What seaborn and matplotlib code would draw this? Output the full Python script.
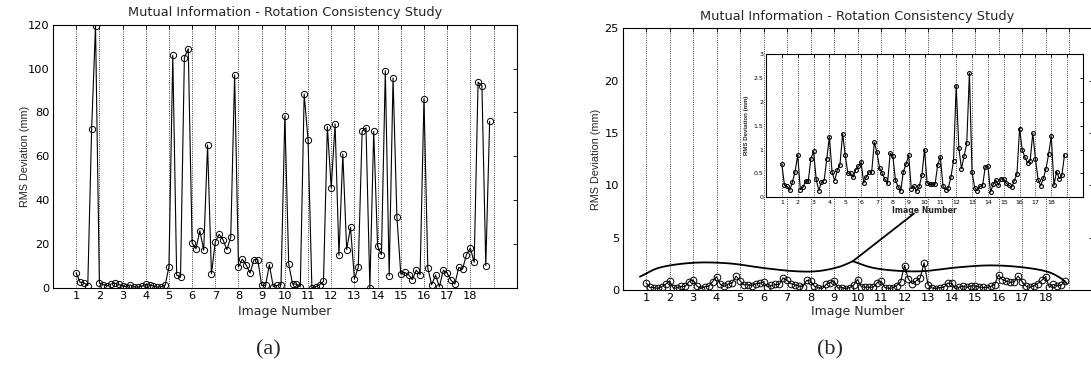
import numpy as np
import pandas as pd
import matplotlib
matplotlib.use("Agg")
import matplotlib.pyplot as plt
import seaborn as sns

# 18 images, 6 rotation trials per image
images = list(range(1, 19))
trials_per_image = 6

# (a) RMS deviation (mm), six trials per image
rms_a = [
    6.8, 2.6, 2.3, 1.1, 72.5, 119.5,
    2.3, 1.5, 0.9, 1.8, 2.2, 1.6,
    1.0, 0.6, 1.4, 0.5, 0.4, 0.9,
    1.6, 1.3, 0.9, 0.4, 0.6, 1.2,
    9.5, 106.0, 5.9, 5.0, 105.0, 109.0,
    20.5, 17.9, 26.1, 17.2, 65.2, 6.4,
    21.1, 24.5, 22.0, 17.5, 23.1, 97.1,
    9.6, 13.2, 10.4, 6.8, 12.9, 12.9,
    1.2, 1.2, 10.6, 0.6, 1.2, 1.5,
    78.4, 10.9, 1.8, 1.8, 0.6, 88.4,
    67.6, 0.0, 0.6, 1.5, 3.0, 73.5,
    45.6, 74.8, 14.9, 61.1, 17.5, 27.7,
    4.1, 9.4, 71.4, 73.0, 0.0, 71.4,
    19.0, 15.2, 99.0, 5.6, 95.7, 32.4,
    6.4, 7.1, 6.1, 3.8, 8.1, 6.1,
    86.3, 9.0, 1.5, 5.9, 0.5, 8.1,
    6.8, 3.5, 1.8, 9.4, 8.7, 15.2,
    18.2, 11.7, 93.8, 92.2, 10.2, 76.0,
]

# (b) RMS deviation (mm)
rms_b = [
    0.69, 0.25, 0.23, 0.15, 0.32, 0.54,
    0.88, 0.16, 0.21, 0.34, 0.34, 0.81,
    0.96, 0.38, 0.14, 0.32, 0.35, 0.80,
    1.27, 0.53, 0.35, 0.57, 0.68, 1.33,
    0.88, 0.50, 0.50, 0.42, 0.58, 0.65,
    0.73, 0.30, 0.43, 0.53, 0.53, 1.15,
    0.94, 0.61, 0.50, 0.38, 0.29, 0.92,
    0.87, 0.36, 0.22, 0.13, 0.54, 0.69,
    0.88, 0.18, 0.23, 0.13, 0.23, 0.46,
    1.00, 0.30, 0.27, 0.27, 0.27, 0.68,
    0.85, 0.23, 0.16, 0.20, 0.42, 0.77,
    2.34, 1.03, 0.60, 0.87, 1.13, 2.60,
    0.52, 0.20, 0.14, 0.23, 0.25, 0.64,
    0.65, 0.11, 0.27, 0.36, 0.25, 0.39,
    0.38, 0.29, 0.25, 0.21, 0.35, 0.49,
    1.44, 0.99, 0.84, 0.72, 0.77, 1.34,
    0.80, 0.37, 0.24, 0.40, 0.60, 0.91,
    1.28, 0.25, 0.54, 0.39, 0.46, 0.89,
]

sample = np.arange(len(rms_a))
df = pd.DataFrame({
    "Image Number": images[0] + sample / trials_per_image,
    "a": rms_a,
    "b": rms_b,
})

# brace drawn under the (b) curve, in data units of the main axes
brace_pts = [(0.74, 1.27), (1.6, 2.15), (3.0, 2.6), (4.5, 2.55), (6.0, 2.1),
             (7.3, 1.8), (8.3, 1.8), (9.2, 2.2), (9.8, 2.75)]
brace_pts2 = [(9.8, 2.75), (10.6, 2.15), (11.6, 1.85), (12.8, 1.8), (14.2, 2.15),
              (15.6, 2.35), (16.9, 2.2), (18.0, 1.8), (18.6, 1.2), (18.9, 0.64)]
pointer = [(9.8, 2.75), (12.4, 7.3)]


def smooth(pts, n=30):
    p = np.array(pts, dtype=float)
    p = np.vstack([2 * p[0] - p[1], p, 2 * p[-1] - p[-2]])
    t = np.linspace(0, 1, n)[:, None]
    out = []
    for i in range(1, len(p) - 2):
        p0, p1, p2, p3 = p[i - 1], p[i], p[i + 1], p[i + 2]
        seg = 0.5 * ((2 * p1) + (-p0 + p2) * t + (2 * p0 - 5 * p1 + 4 * p2 - p3) * t ** 2
                     + (-p0 + 3 * p1 - 3 * p2 + p3) * t ** 3)
        out.append(seg)
    return np.vstack(out)


sns.set_style("white")
plt.rcParams["font.family"] = ["DejaVu Sans"]
plt.rcParams["axes.linewidth"] = 0.8

W, H = 1091, 383
fig = plt.figure(figsize=(W / 100, H / 100), dpi=100)
ax_a = fig.add_axes([53 / W, 1 - 288 / H, 463.7 / W, 263.3 / H])
ax_b = fig.add_axes([622.5 / W, 1 - 290 / H, 470 / W, 261.7 / H])
ax_in = fig.add_axes([766 / W, 1 - 197.3 / H, 317 / W, 143.3 / H])

ticks = images + [19]
ticklabels = [str(i) for i in images] + [""]
title = "Mutual Information - Rotation Consistency Study"


def style(ax, fs, tl, pad):
    ax.set_xlim(0, 20)
    ax.set_xticks(ticks)
    ax.set_xticklabels(ticklabels)
    ax.grid(axis="x", linestyle=":", color="k", linewidth=0.6)
    ax.grid(axis="y", visible=False)
    ax.tick_params(direction="in", top=True, right=True, labelsize=fs,
                   length=tl, width=0.6, pad=pad, colors="k")
    for s in ax.spines.values():
        s.set_color("k")
        s.set_linewidth(0.8)


# (a)
sns.lineplot(data=df, x="Image Number", y="a", ax=ax_a, estimator=None, color="k",
             lw=0.8, marker="o", ms=4.5, mfc="none", mec="k", mew=0.7)
style(ax_a, 8.2, 3, 2.5)
ax_a.set_ylim(0, 120)
ax_a.set_yticks(range(0, 121, 20))
ax_a.set_title(title, fontsize=9.3, pad=6)
ax_a.set_xlabel("Image Number", fontsize=9, va="center")
ax_a.xaxis.set_label_coords(0.5, -0.09)
ax_a.set_ylabel("RMS Deviation (mm)", family="Liberation Sans", fontsize=7.8, va="center")
ax_a.yaxis.set_label_coords(-0.06, 0.5)

# (b)
bx = smooth(brace_pts)
bx2 = smooth(brace_pts2)
ax_b.plot(bx[:, 0], bx[:, 1], color="k", lw=1.3)
ax_b.plot(bx2[:, 0], bx2[:, 1], color="k", lw=1.3)
ax_b.plot(*zip(*pointer), color="k", lw=1.3)
sns.lineplot(data=df, x="Image Number", y="b", ax=ax_b, estimator=None, color="k",
             lw=0.8, marker="o", ms=4.8, mfc="none", mec="k", mew=0.7)
style(ax_b, 8.2, 3, 2.5)
ax_b.set_ylim(0, 25)
ax_b.set_yticks(range(0, 26, 5))
ax_b.set_title(title, fontsize=9.3, pad=6)
ax_b.set_xlabel("Image Number", fontsize=9, va="center")
ax_b.xaxis.set_label_coords(0.5, -0.083)
ax_b.set_ylabel("RMS Deviation (mm)", family="Liberation Sans", fontsize=7.8, va="center")
ax_b.yaxis.set_label_coords(-0.056, 0.5)

# inset of (b)
ax_in.set_facecolor("white")
sns.lineplot(data=df, x="Image Number", y="b", ax=ax_in, estimator=None, color="k",
             lw=0.8, marker="o", ms=2.8, mfc="none", mec="k", mew=0.8)
style(ax_in, 4.5, 2, 2)
ax_in.set_ylim(0, 3)
ax_in.set_yticks(np.arange(0, 3.01, 0.5))
ax_in.set_yticklabels(["0", "0.5", "1", "1.5", "2", "2.5", "3"])
ax_in.set_xlabel("Image Number", fontsize=5.6, fontweight="bold", labelpad=0.5)
ax_in.set_ylabel("RMS Deviation (mm)", family="Liberation Sans", fontsize=4.4,
                 fontweight="bold", labelpad=3)

fig.text(268 / W, 1 - 350 / H, "(a)", family="Liberation Serif", fontsize=16,
         ha="center", va="center")
fig.text(830 / W, 1 - 350 / H, "(b)", family="Liberation Serif", fontsize=16,
         ha="center", va="center")

fig.savefig("out.png", dpi=100)
